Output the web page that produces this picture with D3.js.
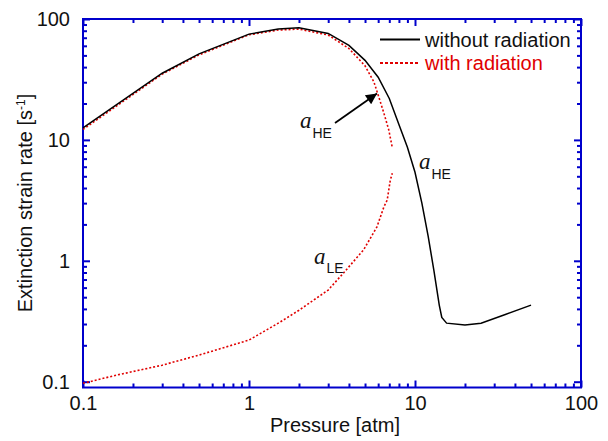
<!DOCTYPE html>
<html><head><meta charset="utf-8">
<script src="https://cdn.jsdelivr.net/npm/d3@7"></script>
<style>body{margin:0;background:#fff} text{font-family:"Liberation Sans",Arial,sans-serif}</style>
</head><body><svg id="c" width="608" height="441"></svg>
<script>
// ---- data ----
const xTicks = [0.1, 1, 10, 100];
const xTickLabels = ["0.1", "1", "10", "100"];
const yTicks = [0.1, 1, 10, 100];
const yTickLabels = ["0.1", "1", "10", "100"];
const seriesNames = ["without radiation", "with radiation"];
// without radiation
const noRadP = [0.1, 0.3, 0.5, 1, 1.5, 2, 3, 4, 5, 6, 7, 8, 9, 10, 11, 12, 13, 14, 14.5, 15.5, 20, 25, 35, 50];
const noRadA = [12.6, 35.6, 51.5, 75, 82.5, 84.5, 76, 60.5, 45.5, 33, 22, 13.4, 8.7, 5.4, 3.0, 1.6, 0.83, 0.43, 0.34, 0.305, 0.294, 0.305, 0.36, 0.43];
// with radiation, high-strain (upper) branch
const radHiP = [0.1, 0.3, 0.5, 1, 1.5, 2, 3, 4, 5, 5.65, 6, 6.5, 6.95, 7.29];
const radHiA = [12.2, 35, 50.5, 74, 81, 82.5, 73.7, 57, 41, 30.3, 23.5, 16.6, 12.1, 8.7];
// with radiation, low-strain (lower) branch
const radLoP = [0.1, 0.16, 0.3, 0.5, 1, 1.55, 2, 3, 3.7, 4.9, 5.9, 6.5, 6.8, 7.1, 7.3];
const radLoA = [0.097, 0.1135, 0.137, 0.166, 0.221, 0.313, 0.39, 0.573, 0.79, 1.23, 1.91, 2.8, 3.18, 4.65, 5.3];

// ---- layout ----
const L = 83, R = 581, T = 19, B = 387.5;
const AX = "#0000cc";
const FS = "20px";
const svg = d3.select("#c");
svg.append("rect").attr("width", 608).attr("height", 441).attr("fill", "#fff");

const x = d3.scaleLog().domain([0.1, 100]).range([L, R]);
const yDec = (381.7 - T) / 3;
const y = d3.scaleLog().domain([Math.pow(10, -1 - (B - 381.7) / yDec), 100]).range([B, T]);

const minorX = [], minorY = [];
for (let d = -1; d < 2; d++) for (let k = 2; k <= 9; k++) { minorX.push(k * Math.pow(10, d)); minorY.push(k * Math.pow(10, d)); }

function styleAxis(g) {
  g.select(".domain").remove();
  g.selectAll(".tick line").attr("stroke", AX).attr("stroke-width", 2);
  g.selectAll(".tick text").attr("fill", "#111").style("font-size", FS).attr("font-family", "Liberation Sans, Arial, sans-serif");
}
// bottom
svg.append("g").attr("transform", `translate(0,${B})`)
  .call(d3.axisBottom(x).tickValues(xTicks).tickFormat((d, i) => xTickLabels[i]).tickSize(-7).tickPadding(8)).call(styleAxis);
svg.append("g").attr("transform", `translate(0,${B})`)
  .call(d3.axisBottom(x).tickValues(minorX).tickFormat("").tickSize(-4)).call(styleAxis);
// top
svg.append("g").attr("transform", `translate(0,${T})`)
  .call(d3.axisTop(x).tickValues(xTicks).tickFormat("").tickSize(-7)).call(styleAxis);
svg.append("g").attr("transform", `translate(0,${T})`)
  .call(d3.axisTop(x).tickValues(minorX).tickFormat("").tickSize(-4)).call(styleAxis);
// left
svg.append("g").attr("transform", `translate(${L},0)`)
  .call(d3.axisLeft(y).tickValues(yTicks).tickFormat((d, i) => yTickLabels[i]).tickSize(-7).tickPadding(13)).call(styleAxis);
svg.append("g").attr("transform", `translate(${L},0)`)
  .call(d3.axisLeft(y).tickValues(minorY).tickFormat("").tickSize(-4)).call(styleAxis);
// right
svg.append("g").attr("transform", `translate(${R},0)`)
  .call(d3.axisRight(y).tickValues(yTicks).tickFormat("").tickSize(-7)).call(styleAxis);
svg.append("g").attr("transform", `translate(${R},0)`)
  .call(d3.axisRight(y).tickValues(minorY).tickFormat("").tickSize(-4)).call(styleAxis);
// frame
svg.append("rect").attr("x", L).attr("y", T).attr("width", R - L).attr("height", B - T)
  .attr("fill", "none").attr("stroke", AX).attr("stroke-width", 2);

// ---- curves ----
const line = d3.line().x(d => x(d[0])).y(d => y(d[1]));
const zip = (a, b) => a.map((v, i) => [v, b[i]]);
svg.append("path").datum(zip(radHiP, radHiA)).attr("d", line).attr("fill", "none")
  .attr("stroke", "#e00000").attr("stroke-width", 1.6).attr("stroke-dasharray", "2,2");
svg.append("path").datum(zip(radLoP, radLoA)).attr("d", line).attr("fill", "none")
  .attr("stroke", "#e00000").attr("stroke-width", 1.6).attr("stroke-dasharray", "2,2");
svg.append("path").datum(zip(noRadP, noRadA)).attr("d", line).attr("fill", "none")
  .attr("stroke", "#000").attr("stroke-width", 1.5);

// ---- legend ----
svg.append("line").attr("x1", 380).attr("x2", 420).attr("y1", 39.5).attr("y2", 39.5).attr("stroke", "#000").attr("stroke-width", 1.8);
svg.append("text").attr("x", 425).attr("y", 46.5).style("font-size", FS).attr("fill", "#111").text(seriesNames[0]);
svg.append("line").attr("x1", 380).attr("x2", 420).attr("y1", 63).attr("y2", 63).attr("stroke", "#e00000").attr("stroke-width", 1.8).attr("stroke-dasharray", "3,2");
svg.append("text").attr("x", 425).attr("y", 70).style("font-size", FS).attr("fill", "#e00000").text(seriesNames[1]);

// ---- axis titles ----
svg.append("text").attr("x", 335).attr("y", 432).attr("text-anchor", "middle").style("font-size", FS).attr("fill", "#111").text("Pressure [atm]");
const yt = svg.append("text").attr("transform", "translate(32,203) rotate(-90)").attr("text-anchor", "middle").style("font-size", FS).attr("fill", "#111");
yt.append("tspan").text("Extinction strain rate [s");
yt.append("tspan").attr("dy", -7).style("font-size", "12px").text("-1");
yt.append("tspan").attr("dy", 7).text("]");

// ---- annotations ----
function label(xa, ya, sub) {
  const t = svg.append("text").attr("x", xa).attr("y", ya).attr("fill", "#111");
  t.append("tspan").style("font-family", "Liberation Serif, Times New Roman, serif").style("font-style", "italic").style("font-size", "23px").text("a");
  t.append("tspan").attr("dy", 9.5).attr("dx", 1).style("font-size", "14px").text(sub);
}
label(300, 128, "HE");
label(419, 169, "HE");
label(314, 263.5, "LE");

svg.append("defs").append("marker").attr("id", "ah").attr("viewBox", "0 0 10 10").attr("refX", 10).attr("refY", 5)
  .attr("markerWidth", 16).attr("markerHeight", 11).attr("markerUnits", "userSpaceOnUse").attr("orient", "auto")
  .append("path").attr("d", "M0,0 L10,5 L0,10 Z").attr("fill", "#000");
svg.append("line").attr("x1", 335).attr("y1", 123).attr("x2", 377).attr("y2", 93.5)
  .attr("stroke", "#000").attr("stroke-width", 1.8).attr("marker-end", "url(#ah)");
</script></body></html>
